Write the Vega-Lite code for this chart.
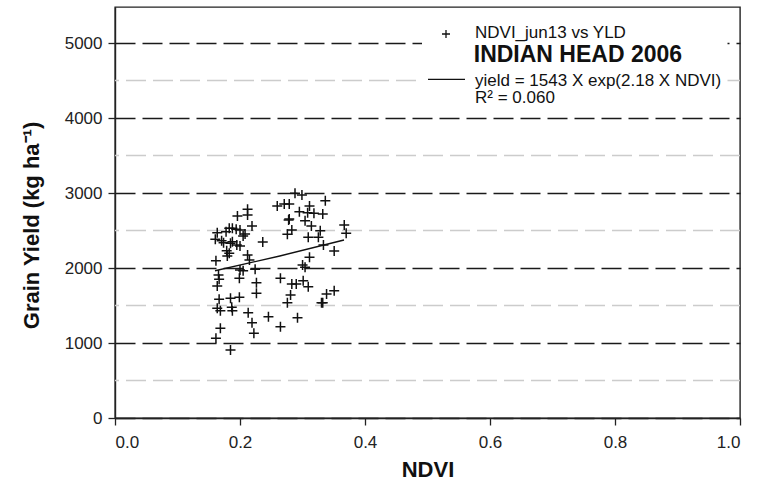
{
  "$schema": "https://vega.github.io/schema/vega-lite/v6.json",
  "width": 625,
  "height": 411,
  "autosize": {"type": "none"},
  "padding": {"left": 115, "top": 7, "right": 21, "bottom": 65},
  "background": "white",
  "config": {
    "view": {"stroke": "#222", "strokeWidth": 1.4},
    "font": "Liberation Sans",
    "axis": {
      "labelFont": "Liberation Sans",
      "labelFontSize": 17,
      "labelColor": "#222",
      "titleFont": "Liberation Sans",
      "titleFontSize": 22,
      "titleFontWeight": "bold",
      "titleColor": "#111",
      "domainColor": "#222",
      "domainWidth": 1.4,
      "tickColor": "#222",
      "tickWidth": 1.3,
      "tickSize": 7
    }
  },
  "data": {
    "values": [
      {"ndvi": 0.2880, "yld": 2996}, {"ndvi": 0.2991, "yld": 2973}, {"ndvi": 0.3365, "yld": 2898},
      {"ndvi": 0.2596, "yld": 2827}, {"ndvi": 0.2708, "yld": 2853}, {"ndvi": 0.2788, "yld": 2853},
      {"ndvi": 0.3112, "yld": 2827}, {"ndvi": 0.2121, "yld": 2782}, {"ndvi": 0.2121, "yld": 2707},
      {"ndvi": 0.1959, "yld": 2693}, {"ndvi": 0.2950, "yld": 2751}, {"ndvi": 0.3082, "yld": 2738},
      {"ndvi": 0.3183, "yld": 2729}, {"ndvi": 0.3324, "yld": 2720}, {"ndvi": 0.2778, "yld": 2640},
      {"ndvi": 0.2788, "yld": 2653}, {"ndvi": 0.3041, "yld": 2631}, {"ndvi": 0.2192, "yld": 2560},
      {"ndvi": 0.3142, "yld": 2560}, {"ndvi": 0.3668, "yld": 2573}, {"ndvi": 0.1828, "yld": 2529},
      {"ndvi": 0.1878, "yld": 2529}, {"ndvi": 0.1939, "yld": 2516}, {"ndvi": 0.2000, "yld": 2507},
      {"ndvi": 0.1777, "yld": 2484}, {"ndvi": 0.1636, "yld": 2471}, {"ndvi": 0.2081, "yld": 2453},
      {"ndvi": 0.2050, "yld": 2427}, {"ndvi": 0.2829, "yld": 2507}, {"ndvi": 0.2758, "yld": 2449},
      {"ndvi": 0.3284, "yld": 2498}, {"ndvi": 0.3699, "yld": 2462}, {"ndvi": 0.3092, "yld": 2409},
      {"ndvi": 0.3254, "yld": 2409}, {"ndvi": 0.1605, "yld": 2382}, {"ndvi": 0.1706, "yld": 2364},
      {"ndvi": 0.1737, "yld": 2338}, {"ndvi": 0.1878, "yld": 2351}, {"ndvi": 0.1848, "yld": 2329},
      {"ndvi": 0.1949, "yld": 2307}, {"ndvi": 0.2000, "yld": 2293}, {"ndvi": 0.2364, "yld": 2347},
      {"ndvi": 0.3335, "yld": 2307}, {"ndvi": 0.1787, "yld": 2231}, {"ndvi": 0.1828, "yld": 2196},
      {"ndvi": 0.1797, "yld": 2160}, {"ndvi": 0.2121, "yld": 2173}, {"ndvi": 0.2151, "yld": 2107},
      {"ndvi": 0.3507, "yld": 2227}, {"ndvi": 0.3112, "yld": 2142}, {"ndvi": 0.1615, "yld": 2098},
      {"ndvi": 0.3001, "yld": 2040}, {"ndvi": 0.3041, "yld": 2009}, {"ndvi": 0.2000, "yld": 1973},
      {"ndvi": 0.2050, "yld": 1964}, {"ndvi": 0.2242, "yld": 1982}, {"ndvi": 0.1656, "yld": 1907},
      {"ndvi": 0.1666, "yld": 1849}, {"ndvi": 0.1636, "yld": 1760}, {"ndvi": 0.1990, "yld": 1862},
      {"ndvi": 0.2263, "yld": 1804}, {"ndvi": 0.2647, "yld": 1862}, {"ndvi": 0.2829, "yld": 1787},
      {"ndvi": 0.2900, "yld": 1787}, {"ndvi": 0.3011, "yld": 1831}, {"ndvi": 0.3092, "yld": 1751},
      {"ndvi": 0.2263, "yld": 1662}, {"ndvi": 0.3385, "yld": 1653}, {"ndvi": 0.3507, "yld": 1698},
      {"ndvi": 0.2809, "yld": 1640}, {"ndvi": 0.1666, "yld": 1582}, {"ndvi": 0.1848, "yld": 1596},
      {"ndvi": 0.1990, "yld": 1609}, {"ndvi": 0.2758, "yld": 1538}, {"ndvi": 0.3324, "yld": 1538},
      {"ndvi": 0.3304, "yld": 1538}, {"ndvi": 0.1636, "yld": 1462}, {"ndvi": 0.1686, "yld": 1431},
      {"ndvi": 0.1868, "yld": 1476}, {"ndvi": 0.1878, "yld": 1431}, {"ndvi": 0.2131, "yld": 1404},
      {"ndvi": 0.2455, "yld": 1351}, {"ndvi": 0.2920, "yld": 1338}, {"ndvi": 0.2192, "yld": 1271},
      {"ndvi": 0.1686, "yld": 1196}, {"ndvi": 0.2647, "yld": 1218}, {"ndvi": 0.2222, "yld": 1129},
      {"ndvi": 0.1615, "yld": 1062}, {"ndvi": 0.1848, "yld": 907}
    ]
  },
  "layer": [
    {
      "data": {"values": [{"yld": 500}, {"yld": 1500}, {"yld": 2500}, {"yld": 3500}, {"yld": 4500}]},
      "mark": {"type": "rule", "color": "#cccccc", "strokeWidth": 1.5, "strokeDash": [20, 7]},
      "encoding": {
        "y": {"field": "yld", "type": "quantitative"}
      }
    },
    {
      "mark": {
        "type": "point",
        "shape": "M-1,0H1M0,-1V1",
        "filled": false,
        "stroke": "#111",
        "strokeWidth": 1.5,
        "size": 100,
        "opacity": 1
      },
      "encoding": {
        "x": {
          "field": "ndvi",
          "type": "quantitative",
          "scale": {"domain": [0, 1], "nice": false, "zero": false},
          "axis": {
            "title": "NDVI",
            "values": [0, 0.2, 0.4, 0.6, 0.8, 1.0],
            "format": ".1f",
            "grid": false,
            "labelPadding": 9,
            "titlePadding": 9
          }
        },
        "y": {
          "field": "yld",
          "type": "quantitative",
          "scale": {"domain": [0, 5480], "nice": false},
          "axis": {
            "title": "Grain Yield (kg ha⁻¹)",
            "values": [0, 1000, 2000, 3000, 4000, 5000],
            "format": "d",
            "labelPadding": 6,
            "titlePadding": 21,
            "titleY": 218,
            "grid": true,
            "gridDash": [20, 7],
            "gridColor": "#1a1a1a",
            "gridWidth": 1.5
          }
        }
      }
    },
    {
      "data": {"values": [{}]},
      "mark": {"type": "rect", "fill": "white", "stroke": null},
      "encoding": {
        "x": {"datum": 0.4912, "type": "quantitative"},
        "x2": {"datum": 0.98},
        "y": {"datum": 4120, "type": "quantitative"},
        "y2": {"datum": 5320}
      }
    },
    {
      "data": {
        "values": [
          {"ndvi": 0.1600, "fit": 1964},
          {"ndvi": 0.2637, "fit": 2160},
          {"ndvi": 0.3664, "fit": 2373}
        ]
      },
      "mark": {"type": "line", "color": "#111", "strokeWidth": 1.4},
      "encoding": {
        "x": {"field": "ndvi", "type": "quantitative"},
        "y": {"field": "fit", "type": "quantitative"}
      }
    },
    {
      "data": {"values": [{}]},
      "mark": {"type": "point", "shape": "M-1,0H1M0,-1V1", "filled": false, "stroke": "#111", "strokeWidth": 1.3, "size": 64, "opacity": 1},
      "encoding": {
        "x": {"datum": 0.5296, "type": "quantitative"},
        "y": {"datum": 5120, "type": "quantitative"}
      }
    },
    {
      "data": {"values": [{}]},
      "mark": {"type": "rule", "color": "#111", "strokeWidth": 1.4},
      "encoding": {
        "x": {"datum": 0.5008, "type": "quantitative"},
        "x2": {"datum": 0.56},
        "y": {"datum": 4515, "type": "quantitative"}
      }
    },
    {
      "data": {"values": [{}]},
      "mark": {"type": "text", "text": "NDVI_jun13 vs YLD", "align": "left", "baseline": "middle", "fontSize": 17, "font": "Liberation Sans", "color": "#111"},
      "encoding": {
        "x": {"datum": 0.576, "type": "quantitative"},
        "y": {"datum": 5133, "type": "quantitative"}
      }
    },
    {
      "data": {"values": [{}]},
      "mark": {"type": "text", "text": "INDIAN HEAD 2006", "align": "left", "baseline": "middle", "fontSize": 23, "fontWeight": "bold", "font": "Liberation Sans", "color": "#111"},
      "encoding": {
        "x": {"datum": 0.574, "type": "quantitative"},
        "y": {"datum": 4840, "type": "quantitative"}
      }
    },
    {
      "data": {"values": [{}]},
      "mark": {"type": "text", "text": "yield = 1543 X exp(2.18 X NDVI)", "align": "left", "baseline": "middle", "fontSize": 17, "font": "Liberation Sans", "color": "#111"},
      "encoding": {
        "x": {"datum": 0.576, "type": "quantitative"},
        "y": {"datum": 4500, "type": "quantitative"}
      }
    },
    {
      "data": {"values": [{}]},
      "mark": {"type": "text", "text": "R² = 0.060", "align": "left", "baseline": "middle", "fontSize": 17, "font": "Liberation Sans", "color": "#111"},
      "encoding": {
        "x": {"datum": 0.576, "type": "quantitative"},
        "y": {"datum": 4265, "type": "quantitative"}
      }
    }
  ]
}
